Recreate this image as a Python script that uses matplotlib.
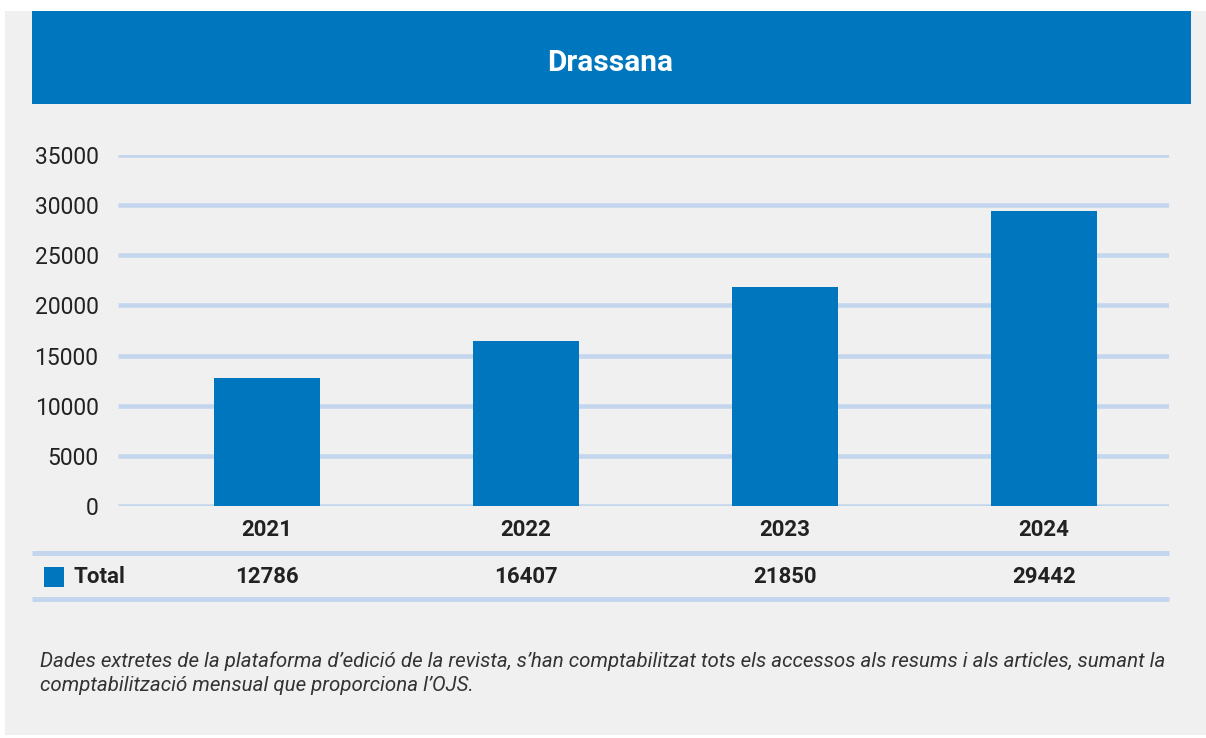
import matplotlib.pyplot as plt
import matplotlib.transforms as mtrans
from matplotlib.patches import Rectangle
from matplotlib.lines import Line2D

years = ['2021', '2022', '2023', '2024']
totals = [12786, 16407, 21850, 29442]
yticks = [0, 5000, 10000, 15000, 20000, 25000, 30000, 35000]
title = 'Drassana'
series_name = 'Total'
note = ("Dades extretes de la plataforma d\u2019edició de la revista, s\u2019han comptabilitzat tots els accessos als resums i als articles, sumant la\n"
        "comptabilització mensual que proporciona l\u2019OJS.")

blue = '#0076be'
grid = '#c3d6ee'
txt = '#222222'

plt.rcParams['font.family'] = ['Roboto', 'DejaVu Sans']

W, H = 1206, 738
fig = plt.figure(figsize=(W/100, H/100), dpi=100, facecolor='white')

def fx(px):
    return px / W

def fy(py):
    return 1 - py / H

# grey panel and title banner (behind the axes)
fig.patches.append(Rectangle((fx(5), fy(735)), fx(1201), 724/H, transform=fig.transFigure,
                             facecolor='#f0f0f0', edgecolor='none', zorder=-3))
fig.patches.append(Rectangle((fx(32), fy(104)), fx(1159), 93/H, transform=fig.transFigure,
                             facecolor=blue, edgecolor='none', zorder=-2))
fig.text(0.5 + fx(7), fy(63), title, color='white', fontsize=21.5, fontweight='bold',
         ha='center', va='center')

ax = fig.add_axes([fx(118), fy(506), fx(1169 - 118), (506 - 155)/H])
ax.set_facecolor('none')
x = list(range(len(years)))
ax.bar(x, totals, width=0.41, color=blue, zorder=3)
for t in yticks:
    ax.axhline(t, color=grid, lw=3.3, zorder=1, solid_capstyle='butt')
ax.set_ylim(0, 35000)
ax.set_xlim(-0.575, 3.483)
ax.set_yticks(yticks)
ax.set_yticklabels([str(t) for t in yticks], fontsize=16.5, color=txt)
ax.tick_params(axis='y', length=0, pad=14)
ax.set_xticks([])
for s in ax.spines.values():
    s.set_visible(False)

# data table under the axis
bt = mtrans.blended_transform_factory(ax.transData, fig.transFigure)
for i, (yr, v) in enumerate(zip(years, totals)):
    ax.text(i, fy(530), yr, transform=bt, ha='center', va='center', fontsize=16,
            fontweight='bold', color=txt, clip_on=False)
    ax.text(i, fy(577), str(v), transform=bt, ha='center', va='center', fontsize=16,
            fontweight='bold', color=txt, clip_on=False)
for py in (553, 599):
    fig.lines.append(Line2D([fx(32), fx(1169)], [fy(py), fy(py)], transform=fig.transFigure,
                            color=grid, lw=3.6, solid_capstyle='butt'))
fig.patches.append(Rectangle((fx(44), fy(587)), fx(20), 20/H, transform=fig.transFigure,
                             facecolor=blue, edgecolor='none'))
fig.text(fx(73), fy(577), series_name, fontsize=16, fontweight='bold', color=txt,
         ha='left', va='center')

fig.text(fx(40), fy(673), note, fontsize=14.8, fontstyle='italic', fontweight='normal',
         color='#333333', ha='left', va='center', linespacing=1.3)

fig.savefig('out.png', dpi=100, facecolor=fig.get_facecolor())
